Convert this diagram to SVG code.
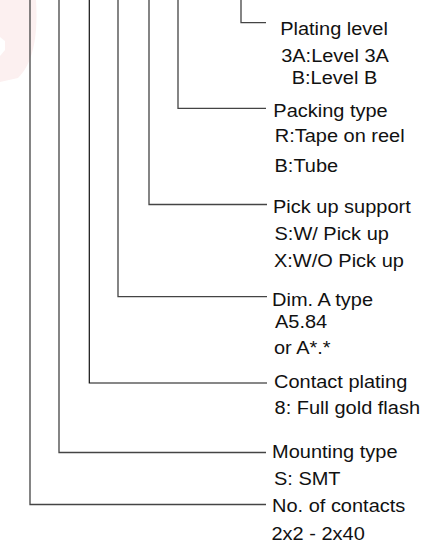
<svg xmlns="http://www.w3.org/2000/svg" width="428" height="550" viewBox="0 0 428 550">
  <style>
    .ln { stroke: #444; stroke-width: 1.3; fill: none; }
    .lnd { stroke: #111; stroke-width: 1.2; fill: none; }
    text { font-family: "Liberation Sans", Arial, sans-serif; font-size: 18.5px; fill: #111; }
    .mid { text-anchor: middle; }
  </style>
  <rect width="428" height="550" fill="#ffffff"/>
  <path d="M0,0 H36 C38,30 35,62 18,78 L0,82 V56 L5,50 V41 L0,37 Z" fill="#fcf0f0"/>
  <g id="connectors">
    <polyline class="ln" points="241,0 241,22.7 266,22.7"/>
    <polyline class="ln" points="178,0 178,108.3 266,108.3"/>
    <polyline class="ln" points="149,0 149,204.5 267,204.5"/>
    <polyline class="ln" points="118,0 118,296.7 267,296.7"/>
    <polyline class="lnd" points="89.3,0 89.3,383 267,383"/>
    <polyline class="ln" points="59,0 59,452.5 266,452.5"/>
    <polyline class="ln" points="30,0 30,504.5 266,504.5"/>
  </g>
  <g id="plating-level" transform="scale(1.08 1)">
    <text class="mid" x="309.3" y="35">Plating level</text>
    <text class="mid" x="310.2" y="61.7">3A:Level 3A</text>
    <text class="mid" x="309.7" y="84.3">B:Level B</text>
  </g>
  <g id="packing-type" transform="scale(1.08 1)">
    <text x="253.1" y="116.7">Packing type</text>
    <text x="254.4" y="141.7">R:Tape on reel</text>
    <text x="254.2" y="171.7">B:Tube</text>
  </g>
  <g id="pick-up-support" transform="scale(1.08 1)">
    <text x="252.8" y="213.3">Pick up support</text>
    <text x="254.2" y="240">S:W/ Pick up</text>
    <text x="253.7" y="266.7">X:W/O Pick up</text>
  </g>
  <g id="dim-a-type" transform="scale(1.08 1)">
    <text x="251.9" y="305.7">Dim. A type</text>
    <text x="254.6" y="327.7">A5.84</text>
    <text x="253.7" y="354.3">or A*.*</text>
  </g>
  <g id="contact-plating" transform="scale(1.08 1)">
    <text x="253.7" y="388.3">Contact plating</text>
    <text x="254.2" y="414">8: Full gold flash</text>
  </g>
  <g id="mounting-type" transform="scale(1.08 1)">
    <text x="251.9" y="458.3">Mounting type</text>
    <text x="253.7" y="485">S: SMT</text>
  </g>
  <g id="no-of-contacts" transform="scale(1.08 1)">
    <text x="251.9" y="511.7">No. of contacts</text>
    <text x="251.4" y="540">2x2 - 2x40</text>
  </g>
</svg>
